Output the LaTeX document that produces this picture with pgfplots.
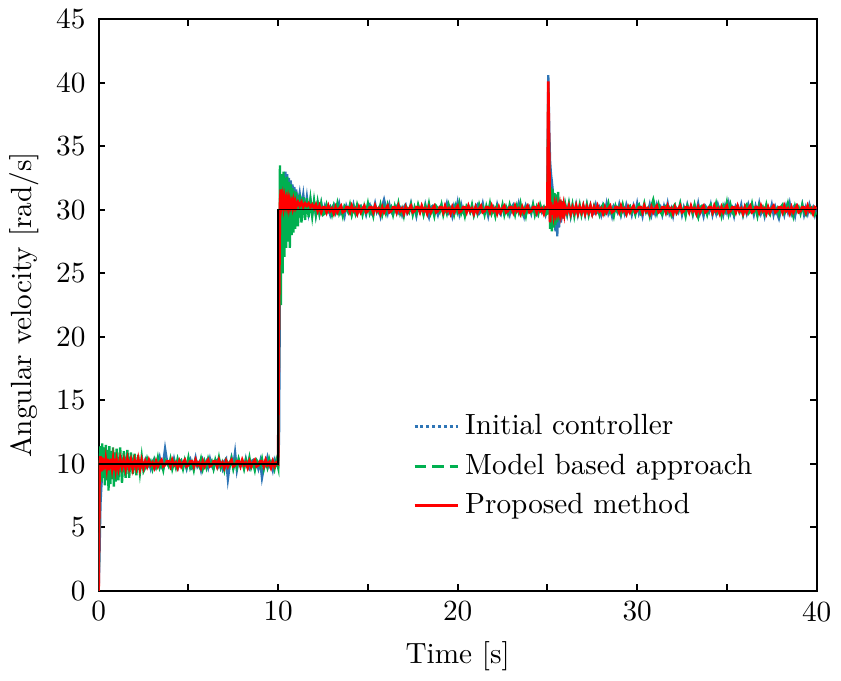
\documentclass[border=0pt]{standalone}
\usepackage{pgfplots}
\usepackage{pgfplotstable}
\pgfplotsset{compat=1.18}
\definecolor{cblue}{RGB}{46,117,182}
\definecolor{cgreen}{RGB}{0,176,80}
\definecolor{cred}{RGB}{255,0,0}
\pgfplotstableread{
t b g r
0.00 0 0 0
0.05 3.0 9.5 9.6
0.10 6.8 11.4 10.6
0.15 8.2 8.6 9.4
0.20 9.3 11.6 10.5
0.25 9.8 8.9 9.5
0.30 10.4 11.3 10.4
0.35 9.6 8.3 9.6
0.40 10.3 11.5 10.3
0.45 9.7 8.7 9.7
0.50 10.4 11.1 10.4
0.55 9.5 7.9 9.5
0.60 10.2 11.4 10.3
0.65 9.8 8.4 9.6
0.70 10.3 11.0 10.4
0.75 9.6 8.8 9.7
0.80 10.4 11.3 10.3
0.85 9.7 8.2 9.5
0.90 10.2 10.9 10.4
0.95 9.6 8.6 9.7
1.00 10.3 11.2 10.3
1.1 9.7 8.7 9.6
1.2 10.3 11.3 10.4
1.3 9.8 8.5 9.7
1.4 10.2 11.0 10.3
1.5 9.6 8.9 9.6
1.6 10.4 11.1 10.4
1.7 9.7 8.9 9.7
1.8 10.3 10.9 10.3
1.9 9.8 9.2 9.6
2.0 10.2 10.8 10.3
2.1 9.7 9.1 9.7
2.2 10.3 10.7 10.4
2.3 9.6 9.3 9.6
2.4 10.2 10.6 10.3
2.5 9.8 9.4 9.7
2.6 10.3 9.7 10.2
2.7 9.8 10.4 9.8
2.8 10.1 9.9 10.3
2.9 9.6 10.2 9.9
3.0 10.2 9.6 10.1
3.1 10.4 10.3 9.7
3.2 9.7 9.8 10.2
3.3 9.9 10.5 9.8
3.4 10.5 9.7 10.1
3.5 9.8 10.1 10.3
3.6 10.1 9.5 9.8
3.7 11.2 10.3 9.9
3.8 10.3 10.1 10.2
3.9 9.9 9.8 10.2
4.0 10.2 10.4 9.8
4.1 9.7 9.6 10.3
4.2 10.4 10.2 9.9
4.3 9.8 9.7 10.1
4.4 9.6 10.4 9.7
4.5 10.2 9.9 10.2
4.6 10.3 10.2 9.8
4.7 9.8 9.6 10.1
4.8 10.1 10.3 10.3
4.9 9.6 9.8 9.8
5.0 10.2 10.5 9.9
5.1 10.4 9.7 10.2
5.2 9.7 10.1 10.2
5.3 9.9 9.5 9.8
5.4 10.5 10.3 10.3
5.5 9.8 10.1 9.9
5.6 10.1 9.8 10.1
5.7 9.5 10.4 9.7
5.8 10.3 9.6 10.2
5.9 9.9 10.2 9.8
6.0 10.2 9.7 10.1
6.1 9.7 10.4 10.3
6.2 10.4 9.9 9.8
6.3 9.8 10.2 9.9
6.4 9.6 9.6 10.2
6.5 10.2 10.3 10.2
6.6 10.3 9.8 9.8
6.7 9.8 10.5 10.3
6.8 10.1 9.7 9.9
6.9 9.6 10.1 10.1
7.0 10.2 9.5 9.7
7.1 10.4 10.3 10.2
7.2 8.8 10.1 9.8
7.3 9.9 9.8 10.1
7.4 10.5 10.4 10.3
7.5 9.8 9.6 9.8
7.6 10.9 10.2 9.9
7.7 9.5 9.7 10.2
7.8 10.3 10.4 10.2
7.9 9.9 9.9 9.8
8.0 10.2 10.2 10.3
8.1 9.7 9.6 9.9
8.2 10.4 10.3 10.1
8.3 9.8 9.8 9.7
8.4 9.6 10.5 10.2
8.5 10.2 9.7 9.8
8.6 10.3 10.1 10.1
8.7 9.8 9.5 10.3
8.8 10.1 10.3 9.8
8.9 9.6 10.1 9.9
9.0 10.2 9.8 10.2
9.1 8.9 10.4 10.2
9.2 9.7 9.6 9.8
9.3 9.9 10.2 10.3
9.4 10.5 9.7 9.9
9.5 9.8 10.4 10.1
9.6 10.1 9.9 9.7
9.7 9.5 10.2 10.2
9.8 10.3 9.6 9.8
9.9 9.9 10.3 10.1
10.00 9.8 9.7 10.0
10.05 12.0 20.0 22.0
10.10 24.0 33.5 30.4
10.15 29.5 22.5 31.6
10.20 31.5 32.8 30.5
10.25 30.2 25.0 31.0
10.30 32.6 33.0 30.3
10.35 31.0 26.3 30.9
10.40 33.0 32.5 30.4
10.45 31.4 27.0 30.8
10.50 32.8 32.6 30.3
10.55 31.2 27.5 30.8
10.60 32.5 32.2 30.2
10.65 30.8 27.0 30.7
10.70 32.3 32.0 30.3
10.75 31.0 28.0 30.6
10.80 32.0 31.7 30.2
10.85 30.6 28.2 30.7
10.90 31.8 31.5 30.3
10.95 30.5 28.5 30.6
11.00 31.6 31.4 30.2
11.1 30.4 28.7 30.6
11.2 31.3 31.2 30.3
11.3 30.2 29.0 30.6
11.4 31.2 31.0 30.2
11.5 29.9 29.2 30.5
11.6 31.0 30.9 30.3
11.7 29.8 29.4 30.5
11.8 30.8 30.8 30.2
11.9 29.7 29.5 30.4
12.0 30.6 30.7 30.1
12.1 29.6 29.6 30.4
12.2 30.5 30.6 29.9
12.3 29.7 29.7 30.3
12.4 30.5 30.5 29.8
12.5 29.8 29.6 30.2
12.6 30.3 29.7 30.2
12.7 29.8 30.4 29.8
12.8 30.1 29.9 30.3
12.9 29.6 30.2 29.9
13.0 30.2 29.6 30.1
13.1 30.4 30.3 29.7
13.2 29.7 29.8 30.2
13.3 29.9 30.5 29.8
13.4 30.5 29.7 30.1
13.5 29.8 30.1 30.3
13.6 30.1 29.5 29.8
13.7 29.5 30.3 29.9
13.8 30.3 30.1 30.2
13.9 29.9 29.8 30.2
14.0 30.2 30.4 29.8
14.1 29.7 29.6 30.3
14.2 30.4 30.2 29.9
14.3 29.8 29.7 30.1
14.4 29.6 30.4 29.7
14.5 30.2 29.9 30.2
14.6 30.3 30.2 29.8
14.7 29.8 29.6 30.1
14.8 30.1 30.3 30.3
14.9 29.6 29.8 29.8
15.0 30.2 30.5 29.9
15.1 30.4 29.7 30.2
15.2 29.7 30.1 30.2
15.3 29.9 29.5 29.8
15.4 30.5 30.3 30.3
15.5 29.8 30.1 29.9
15.6 30.1 29.8 30.1
15.7 29.5 30.4 29.7
15.8 30.3 29.6 30.2
15.9 30.8 30.2 29.8
16.0 30.2 29.7 30.1
16.1 29.7 30.4 30.3
16.2 30.4 29.9 29.8
16.3 29.8 30.2 29.9
16.4 29.6 29.6 30.2
16.5 30.2 30.3 30.2
16.6 30.3 29.8 29.8
16.7 29.8 30.5 30.3
16.8 30.1 29.7 29.9
16.9 29.6 30.1 30.1
17.0 30.2 29.5 29.7
17.1 30.4 30.3 30.2
17.2 29.7 30.1 29.8
17.3 29.9 29.8 30.1
17.4 30.5 30.4 30.3
17.5 29.8 29.6 29.8
17.6 30.1 30.2 29.9
17.7 29.5 29.7 30.2
17.8 30.3 30.4 30.2
17.9 29.9 29.9 29.8
18.0 30.2 30.2 30.3
18.1 29.7 29.6 29.9
18.2 30.4 30.3 30.1
18.3 29.8 29.8 29.7
18.4 29.4 30.5 30.2
18.5 30.2 29.7 29.8
18.6 30.3 30.1 30.1
18.7 29.8 29.5 30.3
18.8 30.1 30.3 29.8
18.9 29.6 30.1 29.9
19.0 30.2 29.8 30.2
19.1 30.4 30.4 30.2
19.2 29.7 29.6 29.8
19.3 29.9 30.2 30.3
19.4 30.5 29.7 29.9
19.5 29.8 30.4 30.1
19.6 30.1 29.9 29.7
19.7 29.5 30.2 30.2
19.8 30.3 29.6 29.8
19.9 29.9 30.3 30.1
20.0 30.6 29.8 30.3
20.1 29.7 30.5 29.8
20.2 30.4 29.7 29.9
20.3 29.8 30.1 30.2
20.4 29.6 29.5 30.2
20.5 30.2 30.3 29.8
20.6 30.3 30.1 30.3
20.7 29.8 29.8 29.9
20.8 30.1 30.4 30.1
20.9 29.6 29.6 29.7
21.0 30.2 30.2 30.2
21.1 30.4 29.7 29.8
21.2 29.7 30.4 30.1
21.3 29.9 29.9 30.3
21.4 30.5 30.2 29.8
21.5 29.8 29.6 29.9
21.6 30.1 30.3 30.2
21.7 29.5 29.8 30.2
21.8 30.3 30.5 29.8
21.9 29.9 29.7 30.3
22.0 30.2 30.1 29.9
22.1 29.7 29.5 30.1
22.2 30.4 30.3 29.7
22.3 29.8 30.1 30.2
22.4 29.6 29.8 29.8
22.5 30.2 30.4 30.1
22.6 30.3 29.6 30.3
22.7 29.8 30.2 29.8
22.8 30.1 29.7 29.9
22.9 29.6 30.4 30.2
23.0 30.2 29.9 30.2
23.1 30.4 30.2 29.8
23.2 29.7 29.6 30.3
23.3 29.9 30.3 29.9
23.4 30.5 29.8 30.1
23.5 29.8 30.5 29.7
23.6 30.1 29.7 30.2
23.7 29.5 30.1 29.8
23.8 30.3 29.5 30.1
23.9 29.9 30.3 30.3
24.0 30.2 30.1 29.8
24.1 29.7 29.8 29.9
24.2 30.4 30.4 30.2
24.3 29.8 29.6 30.2
24.4 29.6 30.2 29.8
24.5 30.2 29.7 30.3
24.6 30.3 30.4 29.9
24.7 29.8 29.9 30.1
24.8 30.1 30.2 29.7
24.9 29.6 29.6 30.2
25.00 30.2 29.7 30.2
25.05 40.6 39.6 40.1
25.10 36.5 33.0 34.5
25.15 33.8 28.5 29.0
25.20 32.8 31.8 30.6
25.25 32.2 28.3 29.6
25.30 31.5 31.6 30.4
25.35 29.0 28.6 29.7
25.40 30.8 31.3 30.3
25.45 28.3 28.8 29.8
25.50 31.0 31.2 30.3
25.55 27.9 29.0 29.8
25.60 30.6 31.4 30.2
25.65 28.6 29.2 29.8
25.70 30.5 30.8 30.3
25.75 29.0 29.4 29.7
25.80 30.4 30.7 30.2
25.85 29.3 29.5 29.8
25.90 30.4 30.5 30.3
25.95 29.5 29.6 29.7
26.00 30.3 30.4 30.2
26.1 29.6 29.7 29.8
26.2 30.4 30.5 30.3
26.3 29.5 29.6 29.7
26.4 30.3 30.4 30.2
26.5 29.7 29.5 29.8
26.6 30.4 30.3 30.3
26.7 29.6 29.7 29.7
26.8 30.2 30.4 30.2
26.9 29.7 29.6 29.8
27.0 30.3 30.3 30.3
27.1 29.6 29.7 29.7
27.2 30.4 30.4 30.2
27.3 29.7 29.6 29.8
27.4 30.3 30.3 30.3
27.5 29.6 29.7 29.7
27.6 29.7 30.3 30.2
27.7 30.4 29.8 29.8
27.8 29.9 30.1 30.3
27.9 30.2 29.6 29.9
28.0 29.6 30.2 30.1
28.1 30.3 30.4 29.7
28.2 29.8 29.7 30.2
28.3 30.5 29.9 29.8
28.4 29.7 30.5 30.1
28.5 30.1 29.8 30.3
28.6 29.5 30.1 29.8
28.7 30.3 29.5 29.9
28.8 30.1 30.3 30.2
28.9 29.8 29.9 30.2
29.0 30.4 30.2 29.8
29.1 29.6 29.7 30.3
29.2 30.2 30.4 29.9
29.3 29.7 29.8 30.1
29.4 30.4 29.6 29.7
29.5 29.9 30.2 30.2
29.6 30.2 30.3 29.8
29.7 29.6 29.8 30.1
29.8 30.3 30.1 30.3
29.9 29.8 29.6 29.8
30.0 30.5 30.2 29.9
30.1 29.7 30.4 30.2
30.2 30.1 29.7 30.2
30.3 29.5 29.9 29.8
30.4 30.3 30.5 30.3
30.5 30.1 29.8 29.9
30.6 29.8 30.1 30.1
30.7 30.4 29.5 29.7
30.8 29.6 30.3 30.2
30.9 30.2 30.8 29.8
31.0 29.7 30.2 30.1
31.1 30.4 29.7 30.3
31.2 29.9 30.4 29.8
31.3 30.2 29.8 29.9
31.4 29.6 29.6 30.2
31.5 30.3 30.2 30.2
31.6 29.8 30.3 29.8
31.7 30.5 29.8 30.3
31.8 29.7 30.1 29.9
31.9 30.1 29.6 30.1
32.0 29.5 30.2 29.7
32.1 30.3 30.4 30.2
32.2 30.1 29.7 29.8
32.3 29.8 29.9 30.1
32.4 30.4 30.5 30.3
32.5 29.6 29.8 29.8
32.6 30.2 30.1 29.9
32.7 29.7 29.5 30.2
32.8 30.4 30.3 30.2
32.9 29.9 29.9 29.8
33.0 30.2 30.2 30.3
33.1 29.6 29.7 29.9
33.2 30.3 30.4 30.1
33.3 29.8 29.8 29.7
33.4 30.5 29.4 30.2
33.5 29.7 30.2 29.8
33.6 30.1 30.3 30.1
33.7 29.5 29.8 30.3
33.8 30.3 30.1 29.8
33.9 30.1 29.6 29.9
34.0 29.8 30.2 30.2
34.1 30.4 30.4 30.2
34.2 29.6 29.7 29.8
34.3 30.2 29.9 30.3
34.4 29.7 30.5 29.9
34.5 30.4 29.8 30.1
34.6 29.9 30.1 29.7
34.7 30.2 29.5 30.2
34.8 29.6 30.3 29.8
34.9 30.3 29.9 30.1
35.0 29.8 30.6 30.3
35.1 30.5 29.7 29.8
35.2 29.7 30.4 29.9
35.3 30.1 29.8 30.2
35.4 29.5 29.6 30.2
35.5 30.3 30.2 29.8
35.6 30.1 30.3 30.3
35.7 29.8 29.8 29.9
35.8 30.4 30.1 30.1
35.9 29.6 29.6 29.7
36.0 30.2 30.2 30.2
36.1 29.7 30.4 29.8
36.2 30.4 29.7 30.1
36.3 29.9 29.9 30.3
36.4 30.2 30.5 29.8
36.5 29.6 29.8 29.9
36.6 30.3 30.1 30.2
36.7 29.8 29.5 30.2
36.8 30.5 30.3 29.8
36.9 29.7 29.9 30.3
37.0 30.1 30.2 29.9
37.1 29.5 29.7 30.1
37.2 30.3 30.4 29.7
37.3 30.1 29.8 30.2
37.4 29.8 29.6 29.8
37.5 30.4 30.2 30.1
37.6 29.6 30.3 30.3
37.7 30.2 29.8 29.8
37.8 29.7 30.1 29.9
37.9 29.3 29.6 30.2
38.0 29.9 30.2 30.2
38.1 30.2 30.4 29.8
38.2 29.6 29.7 30.3
38.3 30.3 29.9 29.9
38.4 29.8 30.5 30.1
38.5 30.5 29.8 29.7
38.6 29.7 30.1 30.2
38.7 30.1 29.5 29.8
38.8 29.5 30.3 30.1
38.9 30.3 29.9 30.3
39.0 30.1 30.2 29.8
39.1 29.8 29.7 29.9
39.2 30.4 30.4 30.2
39.3 29.6 29.8 30.2
39.4 30.2 29.6 29.8
39.5 29.7 30.2 30.3
39.6 30.4 30.3 29.9
39.7 29.9 29.8 30.1
39.8 30.2 30.1 29.7
39.9 29.6 29.6 30.2
40.0 30.2 29.8 30.1
}\datatable
\begin{document}
\begin{tikzpicture}
\begin{axis}[
  width=245.5pt, height=195.5pt, scale only axis,
  xmin=0, xmax=40, ymin=0, ymax=45,
  xtick={0,5,...,40}, xticklabels={0,,10,,20,,30,,40},
  ytick={0,5,...,45},
  tick align=inside, major tick length=2.2pt,
  axis line style={line width=0.7pt},
  tick style={line width=0.7pt, black},
  yticklabel style={xshift=-1pt},
  xlabel={Time [s]}, ylabel={Angular velocity [rad/s]},
  ylabel style={yshift=-1pt},
  legend style={at={(0.425,0.33)}, anchor=north west, draw=none, fill=none, row sep=1pt},
  legend cell align=left,
  legend image code/.code={\draw[#1] (0cm,0cm) -- (0.52cm,0cm);},
]
\addlegendimage{cblue, line width=1pt, densely dotted}
\addlegendimage{cgreen, line width=1pt, dash pattern=on 4pt off 2pt}
\addlegendimage{cred, line width=1pt}
\legend{Initial controller, Model based approach, Proposed method}
\addplot[cblue, line width=0.8pt, forget plot] table[x=t, y=b] {\datatable};
\addplot[cgreen, line width=0.8pt, forget plot] table[x=t, y=g] {\datatable};
\addplot[cred, line width=0.9pt, forget plot] table[x=t, y=r] {\datatable};
\addplot[black, line width=0.5pt, forget plot] coordinates {(0,0) (0,10) (10,10) (10,30) (40,30)};
\end{axis}
\end{tikzpicture}
\end{document}
